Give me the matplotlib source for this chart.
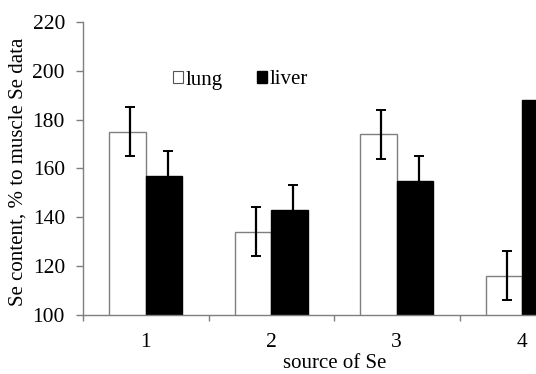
import matplotlib
matplotlib.use("Agg")
import matplotlib.pyplot as plt
from matplotlib.patches import Patch
import numpy as np

categories = ["1", "2", "3", "4"]
lung = [175, 134, 174, 116]
lung_err = [10, 10, 10, 10]
liver = [157, 143, 155, 188]
liver_err = [10, 10, 10, 10]

plt.rcParams['font.family'] = ['Liberation Serif', 'DejaVu Serif']

fig = plt.figure(figsize=(5.36, 3.74), dpi=100)
ax = fig.add_axes([83/536, 1-314.7/374, (585-83)/536, (314.7-22)/374])

x = np.arange(len(categories))
w = 0.29
ax.bar(x - w/2, lung, w, color='white', edgecolor='#7f7f7f', linewidth=1.0, zorder=2)
ax.bar(x + w/2, liver, w, color='black', edgecolor='black', linewidth=1.0, zorder=2)
ax.errorbar(x - w/2 + 0.02, lung, yerr=lung_err, fmt='none', ecolor='black',
            elinewidth=1.6, capsize=3.5, capthick=1.4, zorder=3)
ax.errorbar(x + w/2 + 0.03, liver, yerr=liver_err, fmt='none', ecolor='black',
            elinewidth=1.6, capsize=3.5, capthick=1.4, zorder=3)

ax.set_ylim(100, 220)
ax.set_yticks(np.arange(100, 221, 20))
ax.set_xlim(-0.5, 3.5)
ax.set_xticks(x)
ax.set_xticklabels(categories)
ax.set_xticks(np.arange(-0.5, 3.6, 1.0), minor=True)
ax.tick_params(axis='x', which='major', length=0, pad=13, labelsize=15.5)
ax.tick_params(axis='x', which='minor', length=4, width=1, color='#7f7f7f', direction='out')
ax.tick_params(axis='y', length=5, width=1, color='#7f7f7f', pad=8, labelsize=15.5)

for s in ['top', 'right']:
    ax.spines[s].set_visible(False)
for s in ['left', 'bottom']:
    ax.spines[s].set_color('#7f7f7f')
    ax.spines[s].set_linewidth(1.0)

fig.text(18/536, 1-172/374, 'Se content, % to muscle Se data', fontsize=15,
         rotation=90, ha='center', va='center')
fig.text(335/536, 1.5/374, 'source of Se', fontsize=15, ha='center', va='bottom')

handles = [Patch(facecolor='white', edgecolor='#555555', linewidth=0.8),
           Patch(facecolor='black', edgecolor='black')]
leg = fig.legend(handles, ['lung', 'liver'], loc='center left',
                 bbox_to_anchor=(158/536, 1-80/374), ncol=2, frameon=False,
                 handlelength=0.5, handleheight=0.5, handletextpad=0.15,
                 columnspacing=1.6, fontsize=15, borderpad=0.2)

fig.savefig('out.png', dpi=100)
